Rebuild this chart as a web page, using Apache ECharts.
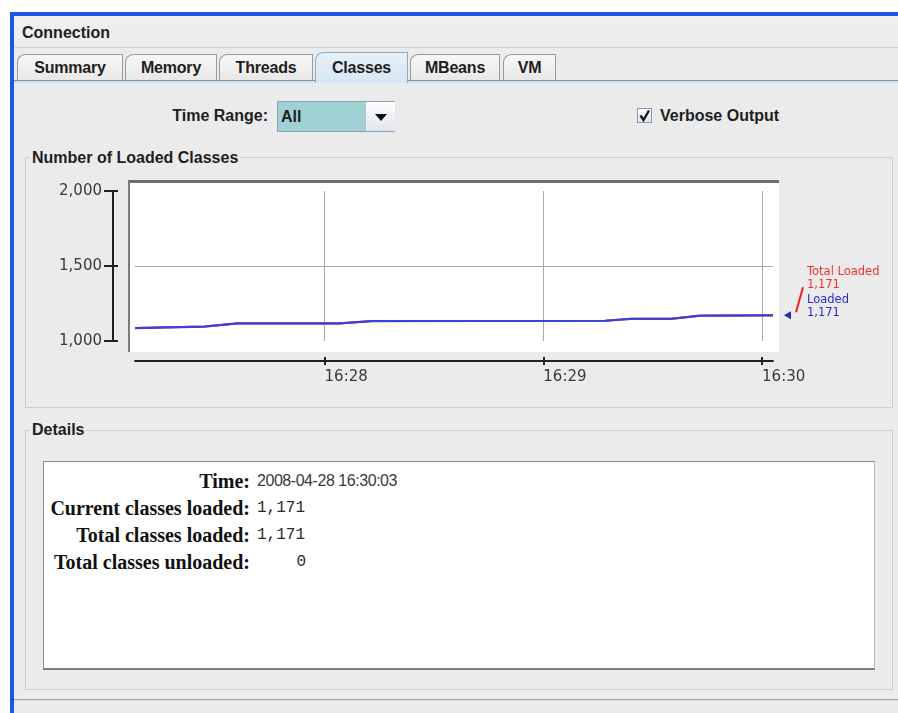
<!DOCTYPE html>
<html><head><meta charset="utf-8">
<script src="https://cdn.jsdelivr.net/npm/echarts@6/dist/echarts.min.js"></script>
<style>
html,body{margin:0;padding:0;width:898px;height:713px;overflow:hidden;background:#fff;font-family:"Liberation Sans",Arial,sans-serif;}
.abs{position:absolute;}
#blueTop{left:10px;top:12px;width:888px;height:4px;background:#1f55e6;}
#blueLeft{left:10px;top:12px;width:4px;height:701px;background:#1f55e6;}
#win{left:14px;top:16px;width:884px;height:697px;background:#ebebeb;}
.b{font-weight:bold;font-size:16px;color:#1e1e1e;white-space:nowrap;}
.tab{position:absolute;top:54px;height:27px;box-sizing:border-box;border:1px solid #9a9a9a;border-bottom:none;border-top-left-radius:9px 8px;background:linear-gradient(#f8f8f8,#e7e7e7);text-align:center;line-height:25px;font-weight:bold;font-size:16px;color:#1e1e1e;z-index:2;letter-spacing:-0.2px;}
.tab.sel{top:52px;height:31px;background:linear-gradient(#e6f0f9,#d6e6f4);z-index:4;line-height:29px;border-color:#8fa9c2;}
.panel{position:absolute;box-sizing:border-box;border:1px solid #cdcdcd;}
.ptitle{position:absolute;background:#ebebeb;padding:0 2px;line-height:20px;}
.lbl{position:absolute;left:20px;width:230px;text-align:right;font-family:"Liberation Serif","Times New Roman",serif;font-weight:bold;font-size:20px;line-height:24px;color:#111;white-space:nowrap;}
.val{position:absolute;font-size:16px;line-height:24px;color:#2a2a2a;white-space:nowrap;}
#chart{position:absolute;left:0;top:0;width:898px;height:713px;z-index:10;}
</style></head>
<body>
<div class="abs" id="win"></div>
<div class="abs" id="blueTop"></div>
<div class="abs" id="blueLeft"></div>
<div class="abs" style="left:14px;top:16px;width:884px;height:31px;background:linear-gradient(#f0f0f0,#ebebeb);border-bottom:1px solid #d2d2d2;"></div>
<div class="abs b" style="left:22px;top:23px;line-height:20px;">Connection</div>

<div class="tab" style="left:17px;width:106px;">Summary</div>
<div class="tab" style="left:125px;width:92px;">Memory</div>
<div class="tab" style="left:219px;width:94px;">Threads</div>
<div class="tab sel" style="left:315px;width:93px;">Classes</div>
<div class="tab" style="left:410px;width:90px;">MBeans</div>
<div class="tab" style="left:503px;width:53px;">VM</div>
<div class="abs" style="left:14px;top:80px;width:884px;height:1px;background:#8c8c8c;z-index:3;"></div>
<div class="abs" style="left:14px;top:81px;width:884px;height:2px;background:#cfe1f2;z-index:3;"></div>

<div class="abs b" style="left:100px;top:106px;width:168px;text-align:right;line-height:20px;">Time Range:</div>
<div class="abs" style="left:277px;top:101px;width:118px;height:31px;box-sizing:border-box;border:1px solid #8aa4b4;background:#9fd1d5;">
  <div class="abs b" style="left:3px;top:0;line-height:29px;">All</div>
  <div class="abs" style="left:87px;top:0;width:29px;height:29px;background:linear-gradient(#ffffff,#e2e5ee);border-left:1px solid #b8c4cc;">
    <div class="abs" style="left:9px;top:12px;width:0;height:0;border-left:6px solid transparent;border-right:6px solid transparent;border-top:7px solid #111;"></div>
  </div>
</div>
<div class="abs" style="left:637px;top:108px;width:15px;height:15px;box-sizing:border-box;border:1px solid #7f9db9;background:linear-gradient(#fff,#dfe3ea);">
  <svg width="13" height="13" style="position:absolute;left:0;top:0"><path d="M2.5,6.5 L5.5,11 L11,1.5" stroke="#1a1a1a" stroke-width="2.4" fill="none"/></svg>
</div>
<div class="abs b" style="left:660px;top:106px;line-height:20px;">Verbose Output</div>

<div class="panel" style="left:25px;top:157px;width:868px;height:251px;"></div>
<div class="ptitle b" style="left:30px;top:148px;">Number of Loaded Classes</div>
<div class="abs" style="left:128px;top:180px;width:651px;height:172px;box-sizing:border-box;background:#fff;border-top:3px solid #6e6e6e;border-left:2px solid #7a7a7a;"></div>

<div class="panel" style="left:25px;top:430px;width:868px;height:260px;"></div>
<div class="ptitle b" style="left:30px;top:420px;">Details</div>
<div class="abs" style="left:43px;top:461px;width:832px;height:209px;box-sizing:border-box;background:#fff;border-top:1px solid #8c8c8c;border-left:1px solid #8c8c8c;border-right:1px solid #b8b8b8;border-bottom:2px solid #7c7c7c;"></div>
<div id="details"></div>

<div class="abs" style="left:14px;top:699px;width:884px;height:1px;background:#9aa3b0;"></div>
<div class="abs" style="left:14px;top:700px;width:884px;height:1px;background:#cfdff0;"></div>

<div id="chart"></div>
<script>
// ---- data ----
const sampleTimes = ['16:27:08','16:27:27','16:27:36','16:28:04','16:28:13','16:29:17','16:29:24','16:29:35','16:29:43','16:30:03'];
const totalLoadedValues = [1086,1096,1117,1117,1133,1135,1148,1148,1169,1171];
const loadedValues      = [1086,1096,1117,1117,1133,1135,1148,1148,1169,1171];
const yTickValues = [1000,1500,2000];
const xTickLabels = ['16:28','16:29','16:30'];
const axisStart = '16:27:08';
const axisEnd = '16:30:03';
const detailLabels = ['Time:','Current classes loaded:','Total classes loaded:','Total classes unloaded:'];
const detailValues = ['2008-04-28 16:30:03','1,171','1,171','0'];

// ---- helpers ----
function toMs(hms){const p=hms.split(':').map(Number);return new Date(2008,3,28,p[0],p[1],p[2]||0).getTime();}
function pad(n){return (n<10?'0':'')+n;}
function fmtNum(v){return String(v).replace(/\B(?=(\d{3})+(?!\d))/g, ',');}

// details panel text
(function(){
  const centers=[481,508,535,562];
  const box=document.getElementById('details');
  let html='';
  detailLabels.forEach((l,i)=>{
    const top=centers[i]-12;
    html+='<div class="lbl" style="top:'+top+'px">'+l+'</div>';
    const v=detailValues[i];
    if(i===0){
      html+='<div class="val" style="left:257px;top:'+top+'px;letter-spacing:-0.45px;color:#3a3a3a;">'+v+'</div>';
    }else if(i===3){
      html+='<div class="val" style="left:206px;width:100px;text-align:right;top:'+top+'px;font-family:\'Liberation Mono\',monospace;">'+v+'</div>';
    }else{
      html+='<div class="val" style="left:257px;top:'+top+'px;font-family:\'Liberation Mono\',monospace;">'+v+'</div>';
    }
  });
  box.innerHTML=html;
})();

const xMin = toMs(axisStart), xMax = toMs(axisEnd);
const xTicks = xTickLabels.map(l=>toMs(l+':00'));
const totalData = sampleTimes.map((t,i)=>[toMs(t), totalLoadedValues[i]]);
const loadedData = sampleTimes.map((t,i)=>[toMs(t), loadedValues[i]]);
const yMin = yTickValues[0], yMax = yTickValues[yTickValues.length-1];
const yStep = yTickValues[1]-yTickValues[0];

const gridLines = xTicks.map(t=>({xAxis:t}));
gridLines.push({yAxis:yTickValues[1]});

const labelFont = {fontFamily:'DejaVu Sans', fontSize:15, color:'#3a3a3a'};
const chart = echarts.init(document.getElementById('chart'), null, {renderer:'canvas'});
chart.setOption({
  backgroundColor:'transparent',
  animation:false,
  grid:{left:135, right:125, top:191, bottom:372},
  xAxis:[{
    type:'value', min:xMin, max:xMax, offset:20,
    axisLine:{show:true, lineStyle:{color:'#222', width:2}},
    axisTick:{show:true, length:4, lineStyle:{color:'#222', width:2}, customValues:xTicks},
    axisLabel:Object.assign({show:true, margin:9, align:'left', customValues:xTicks,
      formatter:v=>{const d=new Date(v);return pad(d.getHours())+':'+pad(d.getMinutes());}}, labelFont),
    splitLine:{show:false}
  },{
    type:'value', min:xMin, max:xMax, offset:20, position:'bottom',
    axisLine:{show:false},
    axisTick:{show:true, inside:true, length:4, lineStyle:{color:'#222', width:2}, customValues:xTicks},
    axisLabel:{show:false}, splitLine:{show:false}
  }],
  yAxis:[{
    type:'value', min:yMin, max:yMax, interval:yStep, offset:22,
    axisLine:{show:true, lineStyle:{color:'#222', width:2}},
    axisTick:{show:true, length:9, lineStyle:{color:'#222', width:2}},
    axisLabel:Object.assign({show:true, margin:11, formatter:v=>fmtNum(v)}, labelFont),
    splitLine:{show:false}
  },{
    type:'value', min:yMin, max:yMax, interval:yStep, offset:22, position:'left',
    axisLine:{show:false},
    axisTick:{show:true, inside:true, length:5, lineStyle:{color:'#222', width:2}},
    axisLabel:{show:false}, splitLine:{show:false}
  }],
  series:[{
    name:'Total Loaded', type:'line', data:totalData, showSymbol:false, clip:false, z:2,
    lineStyle:{color:'#b8203a', width:2.2}, itemStyle:{color:'#b8203a'},
    markLine:{silent:true, z:1, symbol:['none','none'], label:{show:false},
      lineStyle:{color:'#a9a9a9', width:1, type:'solid'}, emphasis:{disabled:true}, data:gridLines}
  },{
    name:'Loaded', type:'line', data:loadedData, showSymbol:false, clip:false, z:3,
    lineStyle:{color:'#3344e4', width:2}, itemStyle:{color:'#3344e4'}
  }]
});

// value indicators at the right of the plot, anchored to the last point
const lastT = loadedData[loadedData.length-1][0];
const lastV = loadedValues[loadedValues.length-1];
const p = chart.convertToPixel({xAxisIndex:0, yAxisIndex:0}, [lastT, lastV]);
const small = {fontFamily:'DejaVu Sans', fontSize:11.5};
chart.setOption({
  graphic:[
    {type:'polygon', shape:{points:[[p[0]+11,p[1]],[p[0]+18,p[1]-4],[p[0]+18,p[1]+4]]}, style:{fill:'#1f2bb0'}},
    {type:'line', shape:{x1:p[0]+30, y1:p[1]-28, x2:p[0]+23, y2:p[1]-3}, style:{stroke:'#f02020', lineWidth:2}},
    {type:'text', x:p[0]+34, y:p[1]-43, style:Object.assign({text:'Total Loaded', fill:'#f23030', verticalAlign:'middle'}, small)},
    {type:'text', x:p[0]+34, y:p[1]-30, style:Object.assign({text:fmtNum(totalLoadedValues[totalLoadedValues.length-1]), fill:'#f23030', verticalAlign:'middle'}, small)},
    {type:'text', x:p[0]+34, y:p[1]-15, style:Object.assign({text:'Loaded', fill:'#2a2ad0', verticalAlign:'middle'}, small)},
    {type:'text', x:p[0]+34, y:p[1]-2, style:Object.assign({text:fmtNum(lastV), fill:'#2a2ad0', verticalAlign:'middle'}, small)}
  ]
});
</script>
</body></html>
